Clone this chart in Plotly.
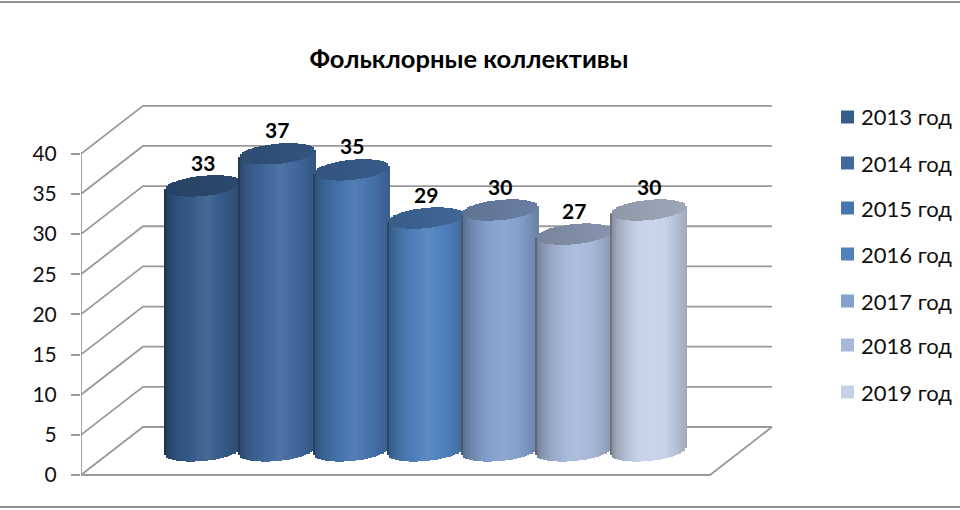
import numpy as np
import plotly.graph_objects as go

years = ["2013 год", "2014 год", "2015 год", "2016 год", "2017 год", "2018 год", "2019 год"]
values = [33, 37, 35, 29, 30, 27, 30]
tick_vals = [0, 5, 10, 15, 20, 25, 30, 35, 40]
colors = ["#375c8b", "#41699d", "#4674ae", "#4f81bd", "#84a0cc", "#a7b9d9", "#c5d2e8"]
legend_y = [117, 163, 208, 254, 301, 345, 392]

FONT = "Lato, Open Sans"
GRID = "#9a9a9a"

# picture geometry: one category = 74.25 px, one unit of value = 8.03 px
PX_X = 74.25
PX_Y = 8.03
x_left, x_right = (81 - 203) / PX_X, (960 - 203) / PX_X
y_low, y_high = (475 - 510) / PX_Y, 475 / PX_Y
dx, dy = 62 / PX_X, 48 / PX_Y      # depth of the floor
cyl_shift = 24 / PX_Y              # cylinders stand in the middle of the floor
half_w = 37.5 / PX_X
ell = 10 / PX_Y
tilt = 3.5 / PX_Y
N = 38


def shade(hex_color, f):
    rgb = [int(hex_color[i:i + 2], 16) for i in (1, 3, 5)]
    if f <= 1:
        rgb = [c * f for c in rgb]
    else:
        rgb = [c + (255 - c) * (f - 1) for c in rgb]
    return "rgb(%d,%d,%d)" % tuple(rgb)


fig = go.Figure()

# walls and floor
front_right = x_left + (710 - 81) / PX_X
for v in tick_vals:
    fig.add_trace(go.Scatter(x=[x_left, x_left + dx, front_right + dx], y=[v, v + dy, v + dy], mode="lines",
                             line=dict(color=GRID, width=1.8), showlegend=False, hoverinfo="skip"))
fig.add_trace(go.Scatter(x=[x_left, x_left], y=[0, 40], mode="lines",
                         line=dict(color=GRID, width=1.8), showlegend=False, hoverinfo="skip"))
fig.add_trace(go.Scatter(x=[x_left, front_right, front_right + dx], y=[0, 0, dy], mode="lines",
                         line=dict(color=GRID, width=1.8), showlegend=False, hoverinfo="skip"))

# cylinders as thin shaded slices
t = np.linspace(-1, 1, N)
s = np.sqrt(1 - t ** 2)
slice_w = 2 * half_w / N * 1.5
for i, val in enumerate(values):
    xs = i + t * half_w
    body = [shade(colors[i], 0.56 + 0.52 * (1 - abs(a - 0.1) / 1.1) ** 0.42) for a in t]
    base = tilt * t - ell * s
    fig.add_trace(go.Bar(x=xs, y=val + tilt * t - base, base=base, width=slice_w, yaxis="y2",
                         marker=dict(color=body, line=dict(width=0)), showlegend=False, hoverinfo="skip"))
    cap = [shade(colors[i], 0.72 + 0.08 * (a + 1) / 2) for a in t]
    fig.add_trace(go.Bar(x=xs, y=2 * ell * s + 0.02, base=val + tilt * t - ell * s, width=slice_w, yaxis="y2",
                         marker=dict(color=cap, line=dict(width=0)), showlegend=False, hoverinfo="skip"))

# data labels
for i, val in enumerate(values):
    fig.add_annotation(x=i, y=val, yref="y2", yshift=24, text="<b>%d</b>" % val, showarrow=False,
                       font=dict(family=FONT, size=21, color="black"))

# legend drawn by hand so the swatch sits next to the text
for name, c, ly in zip(years, colors, legend_y):
    py = 1 - ly / 510
    fig.add_shape(type="rect", xref="paper", yref="paper", x0=841 / 960, x1=854 / 960,
                  y0=py - 6.5 / 510, y1=py + 6.5 / 510, fillcolor=c, line=dict(width=0))
    fig.add_annotation(xref="paper", yref="paper", x=859 / 960, y=py, xanchor="left", yanchor="middle", text=name,
                       showarrow=False, font=dict(family=FONT, size=22, color="#111111"))

# thin frame lines of the picture
for yy in [1 - 2 / 510, 1 - 507 / 510]:
    fig.add_shape(type="line", xref="paper", yref="paper", x0=0, x1=1, y0=yy, y1=yy,
                  line=dict(color="#8f8f8f", width=2))

fig.update_layout(
    width=960, height=510, margin=dict(l=0, r=0, t=0, b=0), showlegend=False,
    paper_bgcolor="white", plot_bgcolor="white", barmode="overlay", bargap=0,
    font=dict(family=FONT, size=21, color="#111111"),
    title=dict(text="<b>Фольклорные коллективы</b>", x=469 / 960, xanchor="center", y=1 - 59 / 510, yanchor="middle",
               font=dict(family=FONT, size=25.5, color="black")),
    xaxis=dict(domain=[81 / 960, 1], range=[x_left, x_right], visible=False),
    yaxis=dict(range=[y_low, y_high], tickmode="array", tickvals=tick_vals, ticks="outside", ticklen=9,
               tickcolor=GRID, tickwidth=1.8, showgrid=False, zeroline=False, showline=False, ticklabelstandoff=10),
    yaxis2=dict(range=[y_low - cyl_shift, y_high - cyl_shift], overlaying="y", visible=False),
)

fig.write_html("out.html", config=dict(displayModeBar=False), post_script="document.body.style.margin='0';")
